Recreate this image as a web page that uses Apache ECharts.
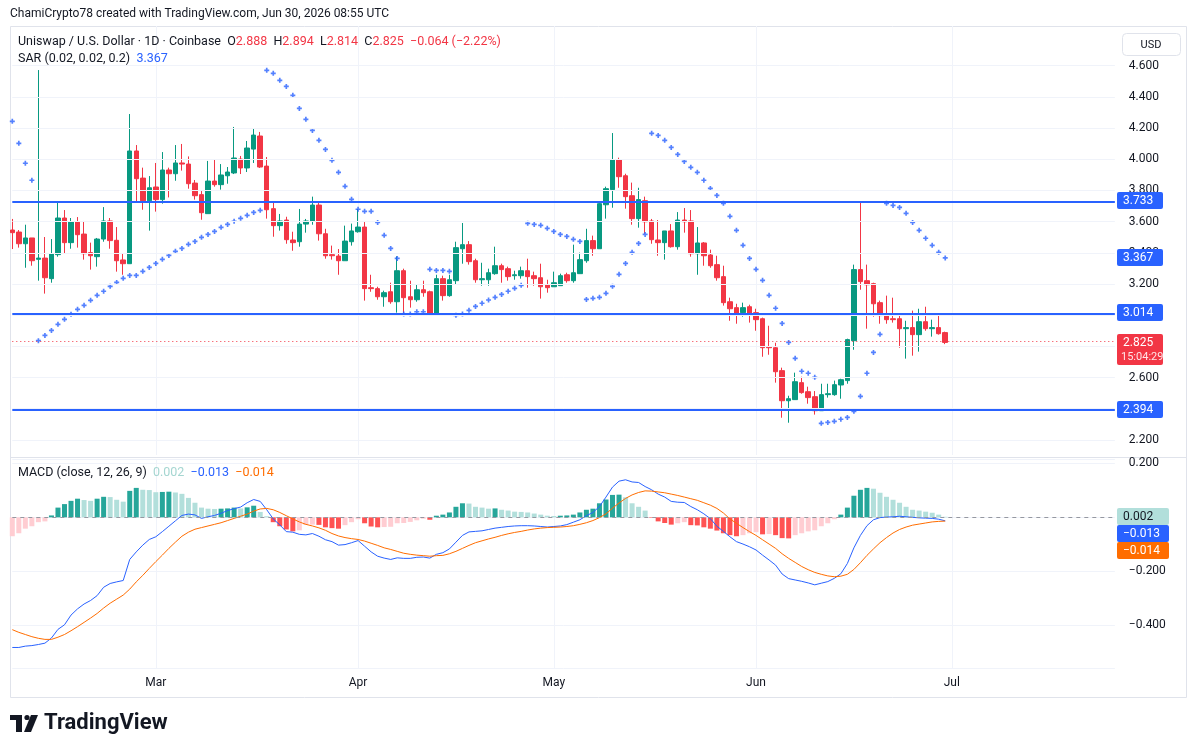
<!doctype html>
<html lang="en">
<head>
<meta charset="UTF-8">
<title>UNIUSD 1D</title>
<script src="https://cdn.jsdelivr.net/npm/echarts@6/dist/echarts.min.js"></script>
<style>
  html, body { margin: 0; padding: 0; background: #fff; }
  #chart { width: 1195px; height: 755px; }
</style>
</head>
<body>
<div id="chart"></div>
<script>
// daily candles, 2026-02-07 .. 2026-06-30
var startDay = [2026, 1, 7];
var futureDays = 26;
var opens = [3.546,3.533,3.458,3.495,3.358,3.366,3.234,3.388,3.623,3.465,3.597,3.520,3.401,3.375,3.488,3.604,3.480,3.354,3.330,4.053,
  3.879,3.734,3.822,3.741,3.931,3.907,3.976,3.969,3.847,3.773,3.651,3.860,3.837,3.894,3.912,4.001,3.944,4.065,4.149,3.956,
  3.683,3.574,3.610,3.482,3.471,3.584,3.604,3.706,3.522,3.388,3.379,3.349,3.471,3.535,3.565,3.176,3.170,3.118,3.150,3.086,
  3.285,3.118,3.099,3.163,3.150,3.007,3.234,3.125,3.221,3.426,3.452,3.349,3.227,3.227,3.266,3.317,3.298,3.253,3.253,3.285,
  3.253,3.240,3.195,3.182,3.189,3.259,3.221,3.266,3.349,3.478,3.426,3.708,3.805,3.997,3.894,3.766,3.619,3.734,3.604,3.482,
  3.465,3.540,3.439,3.610,3.604,3.394,3.463,3.386,3.324,3.247,3.086,3.048,3.016,3.054,3.016,2.977,2.798,2.791,2.644,2.451,
  2.458,2.567,2.509,2.477,2.387,2.490,2.490,2.552,2.580,2.836,3.292,3.221,3.202,3.080,3.001,2.977,2.977,2.913,2.920,2.875,
  2.958,2.913,2.920,2.888];
var highs = [3.617,3.546,3.580,3.495,4.572,3.501,3.488,3.726,3.674,3.623,3.629,3.604,3.465,3.495,3.693,3.623,3.565,3.398,4.290,4.091,
  3.946,3.892,3.976,4.046,3.946,4.091,4.098,4.018,3.867,3.796,3.989,3.995,3.969,3.950,4.207,4.021,4.117,4.194,4.175,4.014,
  3.721,3.649,3.631,3.535,3.681,3.617,3.760,3.719,3.554,3.446,3.424,3.574,3.587,3.681,3.597,3.259,3.182,3.157,3.208,3.377,
  3.298,3.221,3.195,3.221,3.157,3.259,3.253,3.259,3.471,3.591,3.475,3.362,3.336,3.298,3.439,3.330,3.311,3.285,3.311,3.362,
  3.279,3.330,3.227,3.279,3.266,3.272,3.452,3.401,3.554,3.510,3.728,3.824,4.168,4.010,3.907,3.850,3.817,3.760,3.617,3.610,
  3.540,3.584,3.661,3.687,3.674,3.565,3.469,3.420,3.381,3.317,3.112,3.073,3.080,3.067,3.041,2.984,2.932,2.823,2.663,2.483,
  2.631,2.605,2.541,2.513,2.560,2.560,2.580,2.592,2.849,3.324,3.721,3.324,3.208,3.093,3.125,3.112,3.009,2.964,3.029,3.041,
  3.054,2.971,3.009,2.894];
var lows = [3.424,3.433,3.304,3.317,3.221,3.138,3.208,3.375,3.394,3.426,3.433,3.356,3.292,3.311,3.471,3.426,3.279,3.259,3.330,3.721,
  3.676,3.542,3.664,3.715,3.755,3.862,3.927,3.811,3.741,3.612,3.651,3.824,3.805,3.843,3.905,3.905,3.918,3.976,3.944,3.619,
  3.503,3.542,3.458,3.413,3.439,3.529,3.580,3.478,3.362,3.356,3.259,3.349,3.446,3.529,3.093,3.150,3.099,3.054,3.073,3.016,
  3.001,3.048,3.086,3.118,3.001,3.000,3.093,3.118,3.195,3.330,3.324,3.208,3.189,3.189,3.259,3.208,3.221,3.227,3.234,3.176,
  3.189,3.106,3.144,3.182,3.189,3.208,3.208,3.266,3.336,3.381,3.426,3.619,3.689,3.817,3.683,3.580,3.561,3.522,3.458,3.381,
  3.356,3.433,3.420,3.529,3.375,3.259,3.317,3.304,3.221,3.061,2.964,2.945,2.990,2.952,2.900,2.733,2.746,2.567,2.342,2.310,
  2.458,2.496,2.432,2.362,2.387,2.471,2.483,2.464,2.560,2.778,3.163,2.913,2.990,2.945,2.945,2.952,2.791,2.721,2.740,2.766,
  2.900,2.862,2.875,2.814];
var closes = [3.529,3.458,3.495,3.349,3.366,3.240,3.392,3.623,3.465,3.597,3.516,3.394,3.381,3.488,3.604,3.478,3.349,3.330,4.053,3.875,
  3.734,3.817,3.741,3.931,3.907,3.976,3.969,3.843,3.766,3.657,3.860,3.837,3.899,3.918,4.008,3.944,4.072,4.155,3.950,3.676,
  3.574,3.604,3.484,3.465,3.584,3.604,3.706,3.522,3.381,3.381,3.349,3.475,3.540,3.565,3.170,3.170,3.118,3.144,3.086,3.285,
  3.112,3.099,3.163,3.144,3.007,3.234,3.125,3.227,3.433,3.452,3.343,3.227,3.234,3.272,3.317,3.292,3.247,3.259,3.285,3.247,
  3.234,3.182,3.176,3.208,3.253,3.221,3.272,3.356,3.478,3.426,3.715,3.811,3.997,3.888,3.760,3.619,3.741,3.599,3.484,3.465,
  3.540,3.439,3.610,3.599,3.394,3.463,3.381,3.317,3.240,3.080,3.041,3.009,3.048,3.009,2.971,2.791,2.791,2.637,2.451,2.464,
  2.573,2.503,2.471,2.387,2.490,2.496,2.554,2.586,2.843,3.292,3.215,3.195,3.073,2.997,2.971,2.971,2.913,2.920,2.875,2.958,
  2.913,2.920,2.881,2.825];
var sar = [4.243,4.102,3.974,3.865,2.836,2.870,2.902,2.941,2.973,3.005,3.037,3.063,3.095,3.127,3.153,3.185,3.210,3.236,3.255,3.255,
  3.281,3.306,3.332,3.358,3.383,3.409,3.428,3.454,3.473,3.499,3.518,3.537,3.563,3.582,3.602,3.621,3.640,3.659,3.672,4.570,
  4.551,4.506,4.467,4.410,4.326,4.256,4.185,4.121,4.063,3.993,3.916,3.826,3.743,3.679,3.666,3.666,3.595,3.512,3.428,3.364,
  3.007,3.007,3.022,3.022,3.294,3.287,3.287,3.281,2.999,3.007,3.031,3.056,3.076,3.097,3.114,3.133,3.153,3.172,3.191,3.589,
  3.582,3.576,3.557,3.537,3.518,3.505,3.486,3.473,3.101,3.108,3.114,3.140,3.185,3.262,3.332,3.403,3.460,3.518,4.166,4.153,
  4.121,4.076,4.031,3.986,3.948,3.916,3.865,3.813,3.768,3.717,3.634,3.544,3.448,3.364,3.294,3.223,3.127,3.044,2.947,2.825,
  2.723,2.640,2.627,2.601,2.306,2.312,2.319,2.332,2.344,2.383,2.479,2.627,2.761,2.877,3.717,3.704,3.691,3.653,3.595,3.544,
  3.493,3.448,3.403,3.367];
var macdLine = [-0.482,-0.482,-0.477,-0.475,-0.471,-0.466,-0.447,-0.415,-0.398,-0.362,-0.339,-0.321,-0.308,-0.290,-0.259,-0.245,-0.239,-0.234,-0.156,-0.128,
  -0.103,-0.082,-0.072,-0.053,-0.033,-0.013,0.007,0.012,0.009,-0.004,0.002,0.007,0.015,0.025,0.032,0.038,0.054,0.066,0.059,0.028,
  -0.006,-0.028,-0.053,-0.055,-0.063,-0.065,-0.060,-0.070,-0.083,-0.090,-0.103,-0.101,-0.094,-0.086,-0.107,-0.128,-0.144,-0.151,-0.156,-0.150,
  -0.152,-0.152,-0.148,-0.147,-0.151,-0.137,-0.131,-0.117,-0.092,-0.067,-0.054,-0.052,-0.050,-0.045,-0.040,-0.037,-0.034,-0.032,-0.031,-0.031,
  -0.032,-0.034,-0.036,-0.034,-0.032,-0.027,-0.018,-0.009,0.006,0.018,0.040,0.075,0.112,0.134,0.139,0.131,0.129,0.114,0.102,0.086,
  0.075,0.059,0.056,0.055,0.040,0.028,0.013,-0.005,-0.033,-0.052,-0.072,-0.090,-0.099,-0.109,-0.121,-0.140,-0.158,-0.177,-0.210,-0.227,
  -0.232,-0.237,-0.243,-0.250,-0.244,-0.238,-0.226,-0.209,-0.171,-0.113,-0.067,-0.031,-0.009,-0.001,0.001,0.002,0.004,0.002,0.000,-0.002,
  -0.003,-0.004,-0.007,-0.013];
var signalLine = [-0.416,-0.426,-0.434,-0.442,-0.448,-0.452,-0.452,-0.444,-0.434,-0.420,-0.405,-0.389,-0.373,-0.356,-0.336,-0.318,-0.303,-0.288,-0.266,-0.239,
  -0.215,-0.189,-0.164,-0.140,-0.115,-0.092,-0.070,-0.055,-0.044,-0.038,-0.032,-0.026,-0.020,-0.012,-0.004,0.004,0.012,0.023,0.031,0.033,
  0.028,0.018,0.006,-0.006,-0.017,-0.026,-0.032,-0.039,-0.048,-0.060,-0.069,-0.075,-0.079,-0.082,-0.088,-0.096,-0.104,-0.113,-0.119,-0.126,
  -0.133,-0.137,-0.140,-0.142,-0.144,-0.142,-0.141,-0.135,-0.126,-0.115,-0.104,-0.094,-0.087,-0.080,-0.074,-0.067,-0.061,-0.056,-0.052,-0.047,
  -0.043,-0.040,-0.038,-0.037,-0.036,-0.034,-0.031,-0.026,-0.020,-0.012,-0.001,0.013,0.034,0.053,0.070,0.083,0.092,0.098,0.097,0.094,
  0.091,0.086,0.081,0.075,0.069,0.063,0.054,0.045,0.033,0.016,-0.006,-0.022,-0.038,-0.053,-0.067,-0.083,-0.099,-0.115,-0.135,-0.152,
  -0.167,-0.182,-0.194,-0.204,-0.211,-0.217,-0.220,-0.218,-0.211,-0.193,-0.168,-0.141,-0.117,-0.094,-0.075,-0.058,-0.045,-0.036,-0.029,-0.025,
  -0.021,-0.017,-0.015,-0.014];
var histogram = [-0.070,-0.059,-0.042,-0.033,-0.018,-0.015,0.007,0.036,0.049,0.061,0.069,0.064,0.061,0.069,0.076,0.075,0.065,0.058,0.098,0.109,
  0.102,0.101,0.093,0.094,0.095,0.092,0.087,0.072,0.054,0.036,0.032,0.031,0.032,0.033,0.036,0.033,0.037,0.043,0.020,0.004,
  -0.018,-0.033,-0.045,-0.052,-0.048,-0.028,-0.027,-0.028,-0.037,-0.040,-0.042,-0.029,-0.018,-0.007,-0.022,-0.034,-0.037,-0.036,-0.035,-0.022,
  -0.021,-0.017,-0.011,-0.005,-0.009,0.006,0.010,0.018,0.039,0.052,0.051,0.039,0.036,0.032,0.033,0.028,0.025,0.021,0.020,0.018,
  0.014,0.010,0.006,0.005,0.006,0.007,0.010,0.018,0.028,0.032,0.052,0.066,0.083,0.084,0.074,0.052,0.039,0.025,-0.002,-0.015,
  -0.021,-0.027,-0.022,-0.018,-0.029,-0.030,-0.037,-0.042,-0.049,-0.059,-0.066,-0.070,-0.066,-0.059,-0.055,-0.063,-0.062,-0.066,-0.077,-0.078,
  -0.066,-0.059,-0.052,-0.048,-0.033,-0.022,-0.007,0.010,0.036,0.080,0.102,0.109,0.106,0.091,0.076,0.065,0.054,0.039,0.028,0.025,
  0.021,0.017,0.010,0.002];
var levels = [3.733, 3.014, 2.394];
var priceTicks = [2.2, 2.4, 2.6, 2.8, 3.0, 3.2, 3.4, 3.6, 3.8, 4.0, 4.2, 4.4, 4.6];
var lastTime = '15:04:29';
var dayChange = '\u22120.064 (\u22122.22%)';

var MONTHS = ['Jan','Feb','Mar','Apr','May','Jun','Jul','Aug','Sep','Oct','Nov','Dec'];
var dates = [];
var t0 = Date.UTC(startDay[0], startDay[1], startDay[2]);
for (var i = 0; i < opens.length + futureDays; i++) {
  dates.push(new Date(t0 + i * 864e5).toISOString().slice(0, 10));
}
function monthStart(v) { return v.slice(8) === '01'; }
function fmt(v) { return v.toFixed(3).replace('-', '\u2212'); }

var UP = '#089981', DOWN = '#f23645', BLUE = '#2962ff', ORANGE = '#ff6d00';
var FONT = 'Roboto, sans-serif';

var candles = opens.map(function (o, i) { return [o, closes[i], lows[i], highs[i]]; });
var histBars = histogram.map(function (v, i) {
  var p = i > 0 ? histogram[i - 1] : v;
  var c = v >= 0 ? (v > p ? '#26a69a' : '#b2dfdb') : (v < p ? '#ff5252' : '#ffcdd2');
  return { value: v, itemStyle: { color: c } };
});
var n = opens.length - 1;
var lastClose = closes[n], lastSar = sar[n], lastHist = histogram[n], lastMacd = macdLine[n], lastSignal = signalLine[n];

var gridLeft = 12.3, gridW = 169 * 6.524;
var vGrid = { show: true, interval: function (i, v) { return monthStart(v); }, lineStyle: { color: '#f0f3fa', width: 1 } };

var chart = echarts.init(document.getElementById('chart'), null, { renderer: 'canvas' });
var option = {
  backgroundColor: '#ffffff',
  animation: false,
  textStyle: { fontFamily: FONT },
  grid: [
    { left: gridLeft, width: gridW, top: 26, height: 429 },
    { left: gridLeft, width: gridW, top: 459, height: 209 }
  ],
  xAxis: [
    { type: 'category', gridIndex: 0, data: dates, boundaryGap: false,
      axisLine: { show: false }, axisTick: { show: false }, axisLabel: { show: false }, splitLine: vGrid },
    { type: 'category', gridIndex: 1, data: dates, boundaryGap: false,
      axisLine: { show: false }, axisTick: { show: false }, splitLine: vGrid,
      axisLabel: { interval: function (i, v) { return monthStart(v); }, formatter: function (v) { return MONTHS[+v.slice(5, 7) - 1]; },
        color: '#131722', fontSize: 12, margin: 9, fontFamily: FONT } }
  ],
  yAxis: [
    { type: 'value', gridIndex: 0, position: 'right', min: 2.1029, max: 4.8546, minInterval: 0.2, maxInterval: 0.2,
      axisLine: { show: false }, axisTick: { show: false }, splitLine: { show: false },
      axisLabel: { color: '#131722', fontSize: 12, margin: 14, fontFamily: FONT,
        formatter: function (v) { return (v > 4.65 || v < 2.15) ? '' : fmt(v); } } },
    { type: 'value', gridIndex: 1, position: 'right', min: -0.558, max: 0.216, minInterval: 0.2, maxInterval: 0.2,
      axisLine: { show: false }, axisTick: { show: false }, splitLine: { lineStyle: { color: '#f0f3fa' } },
      axisLabel: { color: '#131722', fontSize: 12, margin: 14, fontFamily: FONT, showMinLabel: false, showMaxLabel: false,
        formatter: function (v) { return fmt(v); } } }
  ],
  series: [
    { // price grid lines
      type: 'line', xAxisIndex: 0, yAxisIndex: 0, data: [], z: 0, silent: true,
      markLine: { silent: true, symbol: ['none', 'none'], label: { show: false },
        lineStyle: { color: '#f0f3fa', width: 1, type: 'solid' },
        data: priceTicks.map(function (v) { return { yAxis: v }; }) }
    },
    {
      type: 'candlestick', xAxisIndex: 0, yAxisIndex: 0, data: candles, barWidth: 5, clip: false,
      itemStyle: { color: UP, color0: DOWN, borderColor: UP, borderColor0: DOWN, borderWidth: 1 },
      markLine: { silent: true, symbol: ['none', 'none'], label: { show: false },
        data: levels.map(function (v) { return { yAxis: v, lineStyle: { color: BLUE, width: 2, type: 'solid' } }; })
          .concat([{ yAxis: lastClose, lineStyle: { color: DOWN, width: 1, type: [1, 3] } }]) }
    },
    {
      type: 'scatter', xAxisIndex: 0, yAxisIndex: 0, data: sar,
      symbol: 'path://M2 0h2v2h2v2h-2v2h-2v-2h-2v-2h2z', symbolSize: 5,
      itemStyle: { color: BLUE }
    },
    {
      type: 'bar', xAxisIndex: 1, yAxisIndex: 1, data: histBars, barWidth: 5, clip: false,
      markLine: { silent: true, symbol: ['none', 'none'], label: { show: false },
        lineStyle: { color: '#9598a1', width: 1, type: [4, 4] }, data: [{ yAxis: 0 }] }
    },
    { type: 'line', xAxisIndex: 1, yAxisIndex: 1, data: macdLine, showSymbol: false,
      lineStyle: { color: BLUE, width: 1 }, z: 3 },
    { type: 'line', xAxisIndex: 1, yAxisIndex: 1, data: signalLine, showSymbol: false,
      lineStyle: { color: ORANGE, width: 1 }, z: 3 }
  ]
};
chart.setOption(option);

// value tags on the price scales, drawn over the axis labels
var TZ = 100;
function tagGroup(y, w, h, bg, lines) {
  var kids = [{ type: 'rect', z: TZ, shape: { x: 0, y: 0, width: w, height: h, r: 2 }, style: { fill: bg } }];
  lines.forEach(function (l) {
    kids.push({ type: 'text', z: TZ + 1, style: { text: l.text, x: l.x, y: l.y, verticalAlign: 'middle', fill: l.fill, font: l.font } });
  });
  return { type: 'group', x: 1117, y: Math.round(y - 8.5), children: kids };
}
function tag(axis, val, text, bg, fg, w, shift) {
  var y = chart.convertToPixel({ yAxisIndex: axis }, val) + (shift || 0);
  return tagGroup(y, w, 17, bg, [{ text: text, x: 6, y: 8.5, fill: fg, font: '12px ' + FONT }]);
}
var tags = levels.map(function (v) { return tag(0, v, fmt(v), BLUE, '#fff', 46); });
tags.push(tag(0, lastSar, fmt(lastSar), BLUE, '#fff', 46));
tags.push(tagGroup(chart.convertToPixel({ yAxisIndex: 0 }, lastClose), 46, 31, DOWN, [
  { text: fmt(lastClose), x: 6, y: 8.5, fill: '#fff', font: '12px ' + FONT },
  { text: lastTime, x: 4, y: 23, fill: '#ffe3e6', font: '11px ' + FONT }
]));
tags.push(tag(1, lastHist, fmt(lastHist), '#b2dfdb', '#131722', 52));
tags.push(tag(1, lastHist, fmt(lastMacd), BLUE, '#fff', 52, 17));
tags.push(tag(1, lastHist, fmt(lastSignal), ORANGE, '#fff', 52, 34));

var LF = '12.5px ' + FONT;
var legendRich = {
  d: { fill: '#131722', font: LF },
  r: { fill: DOWN, font: LF },
  b: { fill: BLUE, font: LF },
  o: { fill: ORANGE, font: LF },
  g: { fill: '#a5d6d1', font: LF }
};
chart.setOption({
  graphic: [
    { type: 'rect', z: -1, shape: { x: 10.5, y: 26.5, width: 1176, height: 671 }, style: { fill: 'none', stroke: '#e0e3eb', lineWidth: 1 } },
    { type: 'line', z: -1, shape: { x1: 10, y1: 457.5, x2: 1186, y2: 457.5 }, style: { stroke: '#e0e3eb', lineWidth: 1 } },
    { type: 'text', x: 10, y: 8, style: { text: 'ChamiCrypto78 created with TradingView.com, Jun 30, 2026 08:55 UTC', fill: '#131722', font: '12px ' + FONT } },
    { type: 'text', x: 18, y: 35, style: { rich: legendRich,
      text: '{d|Uniswap / U.S. Dollar \u00b7 1D \u00b7 Coinbase  O}{r|' + fmt(opens[n]) + '}{d|  H}{r|' + fmt(highs[n]) +
            '}{d|  L}{r|' + fmt(lows[n]) + '}{d|  C}{r|' + fmt(lastClose) + '  ' + dayChange + '}' } },
    { type: 'text', x: 18, y: 52, style: { rich: legendRich, text: '{d|SAR (0.02, 0.02, 0.2)  }{b|' + fmt(lastSar) + '}' } },
    { type: 'text', x: 18, y: 466, style: { rich: legendRich,
      text: '{d|MACD (close, 12, 26, 9)  }{g|' + fmt(lastHist) + '}{d|  }{b|' + fmt(lastMacd) + '}{d|  }{o|' + fmt(lastSignal) + '}' } },
    { type: 'group', x: 1122, y: 33, children: [
      { type: 'rect', shape: { x: 0.5, y: 0.5, width: 58, height: 22, r: 4 }, style: { fill: '#fff', stroke: '#e0e3eb' } },
      { type: 'text', style: { text: 'USD', x: 29, y: 12, align: 'center', verticalAlign: 'middle', fill: '#131722', font: '11px ' + FONT } }
    ] },
    { type: 'group', x: 10, y: 715, children: [
      { type: 'rect', shape: { x: 0, y: 0, width: 12, height: 5 }, style: { fill: '#131722' } },
      { type: 'rect', shape: { x: 6, y: 0, width: 6, height: 17 }, style: { fill: '#131722' } },
      { type: 'circle', shape: { cx: 17, cy: 2.5, r: 2.6 }, style: { fill: '#131722' } },
      { type: 'polygon', shape: { points: [[21, 0], [28, 0], [21, 17], [14, 17]] }, style: { fill: '#131722' } },
      { type: 'text', style: { text: 'TradingView', x: 34, y: 8.5, verticalAlign: 'middle', fill: '#131722', font: 'bold 22px ' + FONT } }
    ] }
  ].concat(tags)
});
</script>
</body>
</html>
